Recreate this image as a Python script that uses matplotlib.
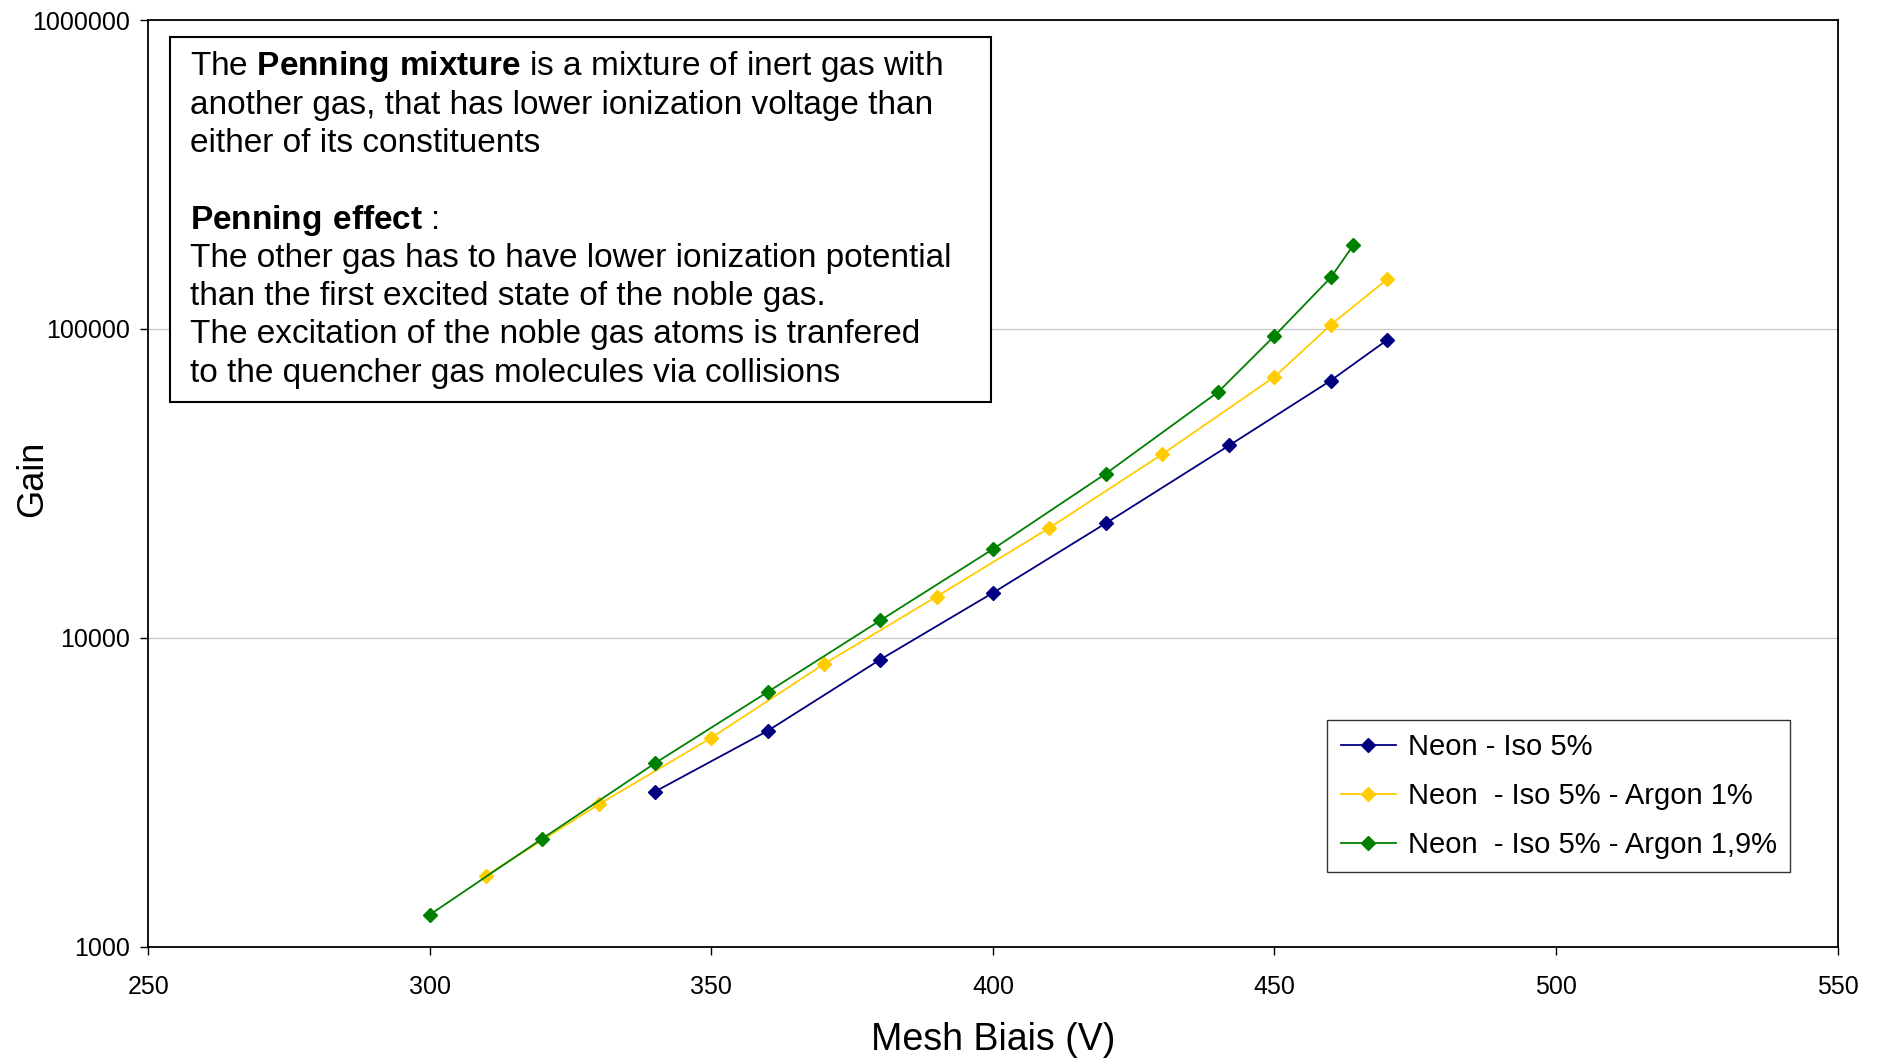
import matplotlib
matplotlib.use('Agg')
import matplotlib.pyplot as plt
from matplotlib.patches import Rectangle
from matplotlib.ticker import FixedLocator, FuncFormatter, NullLocator

plt.rcParams['font.family'] = ['Liberation Sans', 'DejaVu Sans']
plt.rcParams['mathtext.fontset'] = 'custom'
plt.rcParams['mathtext.rm'] = 'Liberation Sans'
plt.rcParams['mathtext.bf'] = 'Liberation Sans:bold'

# Neon - Iso 5%
bias_iso = [340, 360, 380, 400, 420, 442, 460, 470]
gain_iso = [3180, 5000, 8510, 13990, 23470, 42030, 68100, 92100]

# Neon - Iso 5% - Argon 1%
bias_ar1 = [310, 330, 350, 370, 390, 410, 430, 450, 460, 470]
gain_ar1 = [1700, 2890, 4750, 8230, 13610, 22690, 39240, 69990, 103100, 144800]

# Neon - Iso 5% - Argon 1,9%
bias_ar19 = [300, 320, 340, 360, 380, 400, 420, 440, 450, 460, 464]
gain_ar19 = [1270, 2240, 3930, 6680, 11390, 19380, 33980, 62540, 95000, 146800, 186700]

labels = ['Neon - Iso 5%', 'Neon  - Iso 5% - Argon 1%', 'Neon  - Iso 5% - Argon 1,9%']
colors = ['#000080', '#FFCC00', '#008000']

note_lines = [
    r'The $\mathbf{Penning\ mixture}$ is a mixture of inert gas with',
    'another gas, that has lower ionization voltage than',
    'either of its constituents',
    '',
    r'$\mathbf{Penning\ effect}$ :',
    'The other gas has to have lower ionization potential',
    'than the first excited state of the noble gas.',
    'The excitation of the noble gas atoms is tranfered',
    'to the quencher gas molecules via collisions',
]

fig = plt.figure(figsize=(18.77, 10.59), dpi=100)
ax = fig.add_axes([0.079, 0.106, 0.900, 0.875])

for x, y, lab, c in zip([bias_iso, bias_ar1, bias_ar19], [gain_iso, gain_ar1, gain_ar19], labels, colors):
    ax.plot(x, y, color=c, lw=1.3, marker='D', ms=7, label=lab)

ax.set_yscale('log')
ax.set_xlim(250, 550)
ax.set_ylim(1000, 1000000)
ax.set_xticks([250, 300, 350, 400, 450, 500, 550])
ax.yaxis.set_major_locator(FixedLocator([1000, 10000, 100000, 1000000]))
ax.yaxis.set_minor_locator(NullLocator())
ax.yaxis.set_major_formatter(FuncFormatter(lambda v, p: '%d' % v))
ax.tick_params(labelsize=18, length=6, width=1, direction='out')
ax.tick_params(axis='x', pad=14)
ax.tick_params(axis='y', pad=7)
ax.grid(axis='y', color='#c8c8c8', lw=0.9)
ax.set_axisbelow(True)
for s in ax.spines.values():
    s.set_linewidth(1.3)

ax.set_xlabel('Mesh Biais (V)', fontsize=27)
ax.set_ylabel('Gain', fontsize=26)
ax.xaxis.set_label_coords(0.5, -0.081)
ax.yaxis.set_label_coords(-0.058, 0.505)

# note box
ax.add_patch(Rectangle((0.0128, 0.588), 0.4861, 0.394, transform=ax.transAxes,
                       facecolor='white', edgecolor='black', lw=1.5, zorder=3))
for i, line in enumerate(note_lines):
    yp = 1 - (67 + 38.3 * i - 20.3) / 926.5
    ax.text(0.0246, yp, line, transform=ax.transAxes, fontsize=24, va='center', ha='left', zorder=4)

leg = ax.legend(loc='upper left', bbox_to_anchor=(0.698, 0.245), fontsize=21, frameon=True,
                fancybox=False, edgecolor='black', handlelength=1.9, borderpad=0.45,
                labelspacing=0.72, handletextpad=0.4, borderaxespad=0)
leg.get_frame().set_linewidth(1.0)

fig.savefig('out.png', dpi=100)
